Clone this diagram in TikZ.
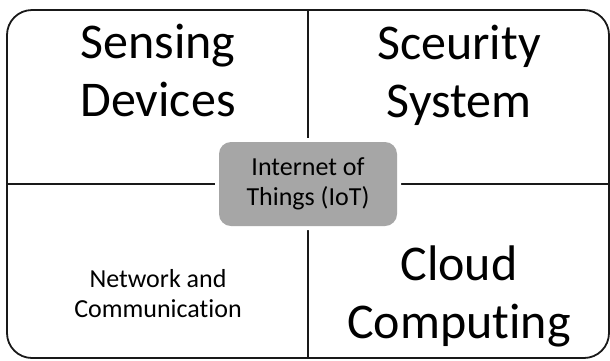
\documentclass[tikz,border=0pt]{standalone}
\usepackage{fontspec}
\setmainfont[Ligatures=NoCommon]{Carlito}
\usetikzlibrary{positioning}

\begin{document}
\begin{tikzpicture}[x=1pt,y=-1pt]
	\tikzstyle{frame}=[draw=black!90,line width=1.8pt,rounded corners=25pt,minimum width=602pt,minimum height=348pt,inner sep=0pt]
	\tikzstyle{divider}=[draw=black!90,line width=1.8pt]
	\tikzstyle{hub}=[fill=black!35,rounded corners=12pt,minimum width=178pt,minimum height=84pt,inner sep=0pt,align=center,font=\fontsize{26}{29.5}\selectfont,preaction={draw=white,line width=8pt}]
	\tikzstyle{big label}=[align=center,inner sep=0pt,font=\fontsize{50}{58}\selectfont]
	\tikzstyle{small label}=[align=center,inner sep=0pt,font=\fontsize{26}{30}\selectfont]

	\useasboundingbox (0,0) rectangle (610,360);

	% Draw the outer frame
	\node[frame] (frame) at (308,184) {};

	% Split the frame into four quadrants
	\draw[divider] (frame.north) -- (frame.south);
	\draw[divider] (frame.west) -- (frame.east);

	% Draw the hub on top of the crossing
	\node[hub] (iot) at (frame.center) {Internet of\\Things (IoT)};

	% Label the quadrants
	\node[big label] (sensing) at (158,70) {Sensing\\Devices};
	\node[big label] (security) at (459,75) {Sceurity\\System};
	\node[small label] (network) at (158,294) {Network and\\Communication};
	\node[big label] (cloud) at (459,296) {Cloud\\Computing};
\end{tikzpicture}
\end{document}
